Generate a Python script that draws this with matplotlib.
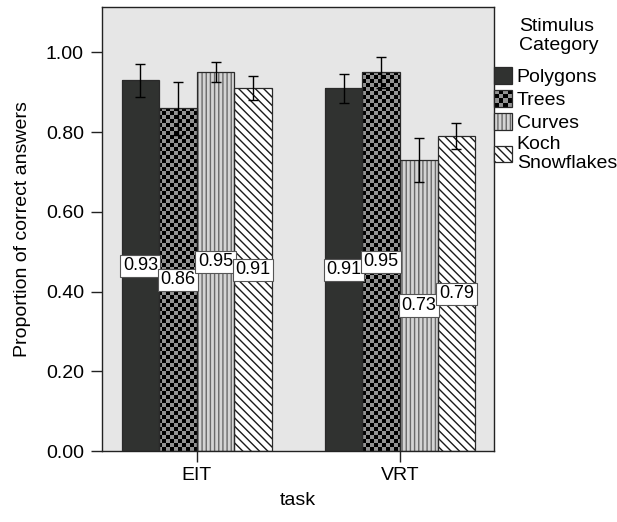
import numpy as np
import matplotlib
matplotlib.use("Agg")
import matplotlib.pyplot as plt
from matplotlib.colors import ListedColormap
from matplotlib.patches import Rectangle, Patch
from matplotlib.legend_handler import HandlerBase

plt.rcParams['font.family'] = ['Liberation Sans', 'DejaVu Sans']
plt.rcParams['hatch.linewidth'] = 1.0

tasks = ["EIT", "VRT"]
categories = ["Polygons", "Trees", "Curves", "Koch\nSnowflakes"]

# mean proportion correct per task (EIT, VRT)
polygons = [0.93, 0.91]
trees = [0.86, 0.95]
curves = [0.95, 0.73]
koch = [0.91, 0.79]

# error bar half-widths
polygons_err = [0.041, 0.037]
trees_err = [0.067, 0.038]
curves_err = [0.025, 0.055]
koch_err = [0.030, 0.032]

means = [polygons, trees, curves, koch]
errs = [polygons_err, trees_err, curves_err, koch_err]

# fill styles: face, hatch, hatch colour, checkerboard
styles = [
    dict(face="#303230", hatch=None, hcolor="none", checker=False),
    dict(face="#939393", hatch=None, hcolor="none", checker=True),
    dict(face="#d4d4d4", hatch="||||", hcolor="#6a6a6a", checker=False),
    dict(face="white", hatch="\\\\\\\\", hcolor="#1a1a1a", checker=False),
]
edge = "#2a2a2a"
bg = "#e6e6e6"
fs = 14

fig = plt.figure(figsize=(6.17, 5.22), dpi=100)
ax = fig.add_axes([102 / 617, 1 - 451 / 522, 392 / 617, 444 / 522])
ax.set_facecolor(bg)

xlim = (-0.466, 1.462)
ylim = (0.0, 1.114)
ax.set_xlim(*xlim)
ax.set_ylim(*ylim)

x = np.arange(len(tasks))
w = 0.185

checker_cmap = ListedColormap(["#939393", "black"])
ny, nx = 111, 98
checker = np.add.outer(np.arange(ny), np.arange(nx)) % 2

for i, (m, e, st) in enumerate(zip(means, errs, styles)):
    xpos = x + (i - 1.5) * w
    bars = ax.bar(xpos, m, width=w, color=st["face"], edgecolor=st["hcolor"],
                  hatch=st["hatch"], linewidth=0, zorder=2)
    if st["checker"]:
        for b in bars:
            im = ax.imshow(checker, extent=(*xlim, *ylim), origin="lower",
                           interpolation="nearest", aspect="auto",
                           cmap=checker_cmap, zorder=2.5)
            im.set_clip_path(b)
    # outline
    ax.bar(xpos, m, width=w, fill=False, edgecolor=edge, linewidth=0.9, zorder=3)
    ax.errorbar(xpos, m, yerr=e, fmt="none", ecolor="black", elinewidth=1.0,
                capsize=3.3, capthick=1.0, zorder=4)
    for xp, v in zip(xpos, m):
        ax.text(xp, v / 2, f"{v:.2f}", ha="center", va="center", fontsize=13,
                zorder=5,
                bbox=dict(boxstyle="square,pad=0.14", facecolor="white",
                          edgecolor="#555555", linewidth=0.8))

ax.set_xlim(*xlim)
ax.set_ylim(*ylim)

ax.set_xticks(x)
ax.set_xticklabels(tasks, fontsize=fs)
ax.set_yticks(np.arange(0, 1.01, 0.2))
ax.set_yticklabels([f"{t:.2f}" for t in np.arange(0, 1.01, 0.2)], fontsize=fs)
ax.tick_params(axis="both", direction="out", length=8, width=1.0, color="#222222")
ax.tick_params(axis="y", pad=5)
ax.tick_params(axis="x", pad=3.5)
for s in ax.spines.values():
    s.set_color("#222222")
    s.set_linewidth(1.0)

ax.set_xlabel("task", fontsize=fs, labelpad=6)
ax.set_ylabel("Proportion of correct answers", fontsize=fs, labelpad=11)


class SwatchHandler(HandlerBase):
    def __init__(self, st):
        super().__init__()
        self.st = st

    def create_artists(self, legend, orig_handle, xdescent, ydescent,
                       width, height, fontsize, trans):
        st = self.st
        x0, y0 = -xdescent, -ydescent
        arts = [Rectangle((x0, y0), width, height, facecolor=st["face"],
                          edgecolor=st["hcolor"], hatch=st["hatch"],
                          linewidth=0, transform=trans)]
        if st["checker"]:
            n = 4
            dx, dy = width / n, height / n
            for r in range(n):
                for c in range(n):
                    if (r + c) % 2 == 0:
                        arts.append(Rectangle((x0 + c * dx, y0 + r * dy), dx, dy,
                                              facecolor="black", linewidth=0,
                                              transform=trans))
        arts.append(Rectangle((x0, y0), width, height, fill=False,
                              edgecolor=edge, linewidth=0.9, transform=trans))
        return arts


handles = [Patch(label=c) for c in categories]
hmap = {h: SwatchHandler(st) for h, st in zip(handles, styles)}
fig.legend(handles, categories, handler_map=hmap, loc="upper left",
           bbox_to_anchor=(494 / 617, 1 - 67 / 522), frameon=False,
           fontsize=fs, borderpad=0, borderaxespad=0, handletextpad=0.22,
           labelspacing=0.2, handlelength=0.95, handleheight=0.95)
fig.text(519 / 617, 1 - 18 / 522, "Stimulus\nCategory", fontsize=fs,
         ha="left", va="top", linespacing=1.12)

fig.savefig("out.png", dpi=100)
